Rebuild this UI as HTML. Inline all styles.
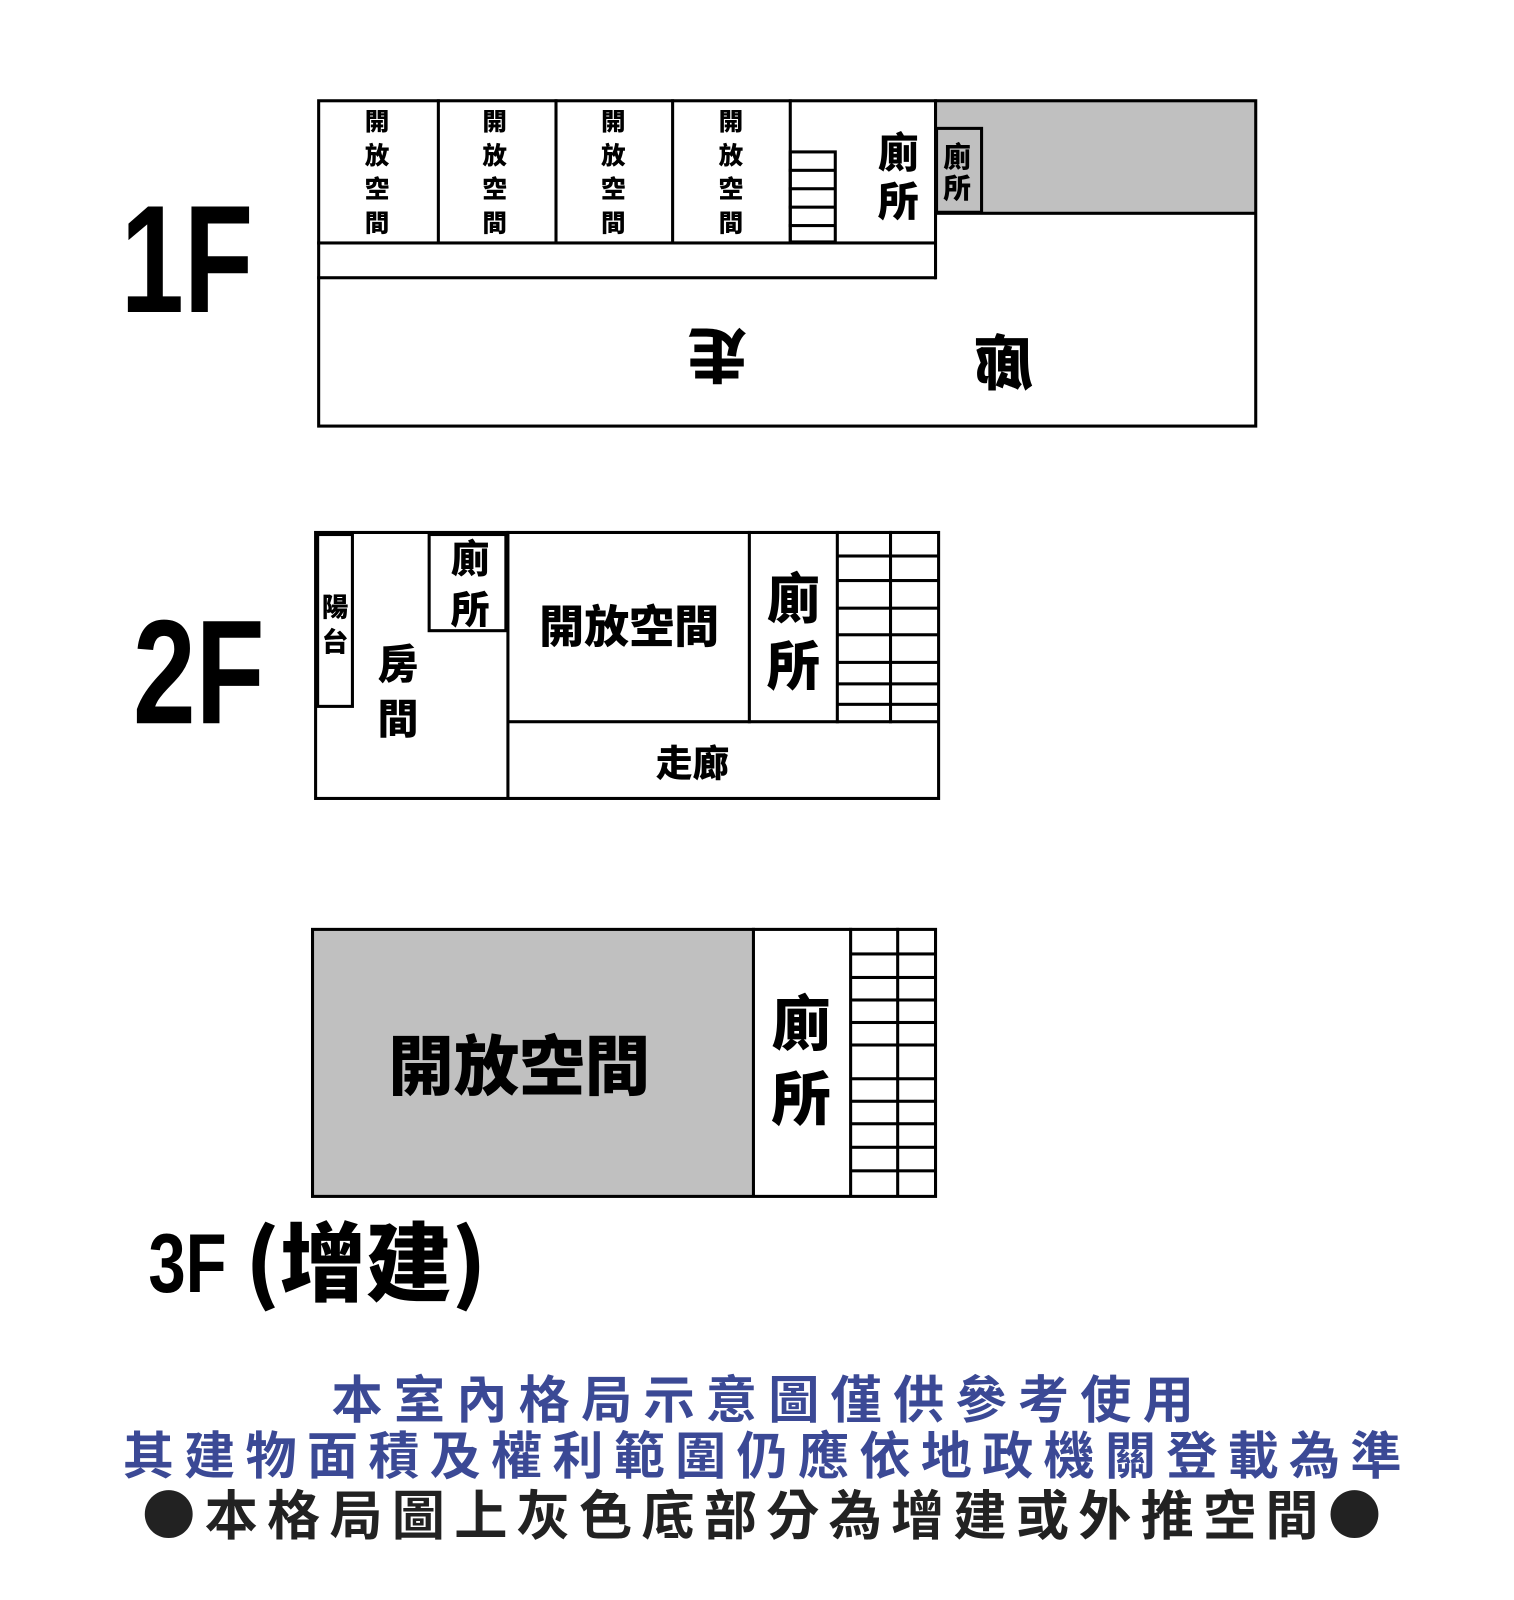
<!DOCTYPE html>
<html><head><meta charset="utf-8"><style>
html,body{margin:0;padding:0;background:#fff;width:1514px;height:1600px;overflow:hidden}
#c{position:absolute;left:0;top:0;width:1480px;height:1564px;transform:scale(1.023);transform-origin:0 0;font-family:"Liberation Sans","Noto Sans CJK TC",sans-serif}
.b{position:absolute;box-sizing:border-box;border:3px solid #000}
.h{position:absolute;background:#000;height:3px}
.v{position:absolute;background:#000;width:3px}
.t{position:absolute;font-family:"Noto Sans CJK TC",sans-serif;font-weight:900;color:#000;line-height:1;text-align:center;white-space:nowrap}
.vt{position:absolute;font-family:"Noto Sans CJK TC",sans-serif;font-weight:900;color:#000;text-align:center;writing-mode:vertical-rl}
.lbl{position:absolute;font-family:"Liberation Sans Narrow","Liberation Sans",sans-serif;font-weight:bold;line-height:1}
.bt{position:absolute;left:0;width:1480px;text-align:center;font-family:"Noto Sans CJK TC",sans-serif;font-weight:700;line-height:1;white-space:nowrap}
</style></head><body><div id="c">
<!-- 1F -->
<div class="lbl" style="left:118px;top:178px;font-size:150px;transform:scaleX(0.74);transform-origin:0 0">1F</div>
<div style="position:absolute;left:914px;top:97px;width:314px;height:111px;background:#c0c0c0"></div>
<div class="b" style="left:310px;top:97px;width:919px;height:321px"></div>
<div class="h" style="left:310px;top:236px;width:605px"></div>
<div class="h" style="left:310px;top:270px;width:605px"></div>
<div class="h" style="left:914px;top:207px;width:314px"></div>
<div class="v" style="left:913px;top:97px;height:176px"></div>
<div class="v" style="left:427px;top:97px;height:141px"></div>
<div class="v" style="left:542px;top:97px;height:141px"></div>
<div class="v" style="left:656px;top:97px;height:141px"></div>
<div class="v" style="left:771px;top:97px;height:141px"></div>
<div class="b" style="left:771px;top:147px;width:47px;height:91px"></div>
<div class="h" style="left:771px;top:165px;width:46px"></div>
<div class="h" style="left:771px;top:183px;width:46px"></div>
<div class="h" style="left:771px;top:201px;width:46px"></div>
<div class="h" style="left:771px;top:219px;width:46px"></div>
<div class="b" style="left:914px;top:124px;width:47px;height:85px"></div>
<div class="vt" style="left:355px;top:106px;font-size:24px;line-height:26px;letter-spacing:9px">開放空間</div>
<div class="vt" style="left:470px;top:106px;font-size:24px;line-height:26px;letter-spacing:9px">開放空間</div>
<div class="vt" style="left:586px;top:106px;font-size:24px;line-height:26px;letter-spacing:9px">開放空間</div>
<div class="vt" style="left:701px;top:106px;font-size:24px;line-height:26px;letter-spacing:9px">開放空間</div>
<div class="vt" style="left:856px;top:128px;font-size:40px;line-height:44px;letter-spacing:8px">廁所</div>
<div class="vt" style="left:920px;top:139px;font-size:27px;line-height:30px;letter-spacing:4px">廁所</div>
<div class="t" style="left:672px;top:322px;font-size:58px;transform:rotate(180deg)">走</div>
<div class="t" style="left:952px;top:322px;font-size:58px;transform:scaleX(-1)">廊</div>
<!-- 2F -->
<div class="lbl" style="left:130px;top:585px;font-size:145px;transform:scaleX(0.76);transform-origin:0 0">2F</div>
<div class="b" style="left:307px;top:519px;width:612px;height:263px"></div>
<div class="b" style="left:309px;top:521px;width:37px;height:171px"></div>
<div class="b" style="left:418px;top:521px;width:78px;height:97px"></div>
<div class="v" style="left:495px;top:519px;height:262px"></div>
<div class="v" style="left:731px;top:519px;height:188px"></div>
<div class="v" style="left:817px;top:519px;height:188px"></div>
<div class="v" style="left:869px;top:519px;height:188px"></div>
<div class="h" style="left:496px;top:704px;width:422px"></div>
<div class="h" style="left:818px;top:542px;width:100px"></div>
<div class="h" style="left:818px;top:566px;width:100px"></div>
<div class="h" style="left:818px;top:593px;width:100px"></div>
<div class="h" style="left:818px;top:619px;width:100px"></div>
<div class="h" style="left:818px;top:646px;width:100px"></div>
<div class="h" style="left:818px;top:667px;width:100px"></div>
<div class="h" style="left:818px;top:687px;width:100px"></div>
<div class="vt" style="left:312px;top:580px;font-size:26px;line-height:30px;letter-spacing:8px">陽台</div>
<div class="vt" style="left:366px;top:628px;font-size:40px;line-height:46px;letter-spacing:14px">房間</div>
<div class="vt" style="left:437px;top:526px;font-size:38px;line-height:44px;letter-spacing:12px">廁所</div>
<div class="t" style="left:500px;top:587px;width:230px;font-size:44px">開放空間</div>
<div class="vt" style="left:746px;top:558px;font-size:52px;line-height:58px;letter-spacing:14px">廁所</div>
<div class="t" style="left:496px;top:726px;width:362px;font-size:36px">走廊</div>
<!-- 3F -->
<div style="position:absolute;left:305px;top:908px;width:431px;height:261px;background:#c0c0c0"></div>
<div class="b" style="left:304px;top:907px;width:612px;height:264px"></div>
<div class="v" style="left:735px;top:907px;height:263px"></div>
<div class="v" style="left:830px;top:907px;height:263px"></div>
<div class="v" style="left:876px;top:907px;height:263px"></div>
<div class="h" style="left:831px;top:931px;width:84px"></div>
<div class="h" style="left:831px;top:954px;width:84px"></div>
<div class="h" style="left:831px;top:976px;width:84px"></div>
<div class="h" style="left:831px;top:998px;width:84px"></div>
<div class="h" style="left:831px;top:1020px;width:84px"></div>
<div class="h" style="left:831px;top:1053px;width:84px"></div>
<div class="h" style="left:831px;top:1075px;width:84px"></div>
<div class="h" style="left:831px;top:1097px;width:84px"></div>
<div class="h" style="left:831px;top:1120px;width:84px"></div>
<div class="h" style="left:831px;top:1143px;width:84px"></div>
<div class="t" style="left:305px;top:1006px;width:405px;font-size:64px">開放空間</div>
<div class="vt" style="left:752px;top:970px;font-size:58px;line-height:62px;letter-spacing:16px">廁所</div>
<div class="lbl" style="left:145px;top:1195px;font-size:82px;transform:scaleX(0.8);transform-origin:0 0">3F</div>
<div class="t" style="left:240px;top:1188px;font-size:84px;text-align:left">(增建)</div>
<!-- bottom text -->
<div class="bt" style="top:1340px;font-size:50px;color:#3b4995;letter-spacing:11px;padding-left:11px">本室內格局示意圖僅供參考使用</div>
<div class="bt" style="top:1395px;font-size:50px;color:#3b4995;letter-spacing:10px;padding-left:10px">其建物面積及權利範圍仍應依地政機關登載為準</div>
<div class="bt" style="top:1452px;font-size:52px;color:#222;letter-spacing:9px;padding-left:9px">●本格局圖上灰色底部分為增建或外推空間●</div>
</div></body></html>
